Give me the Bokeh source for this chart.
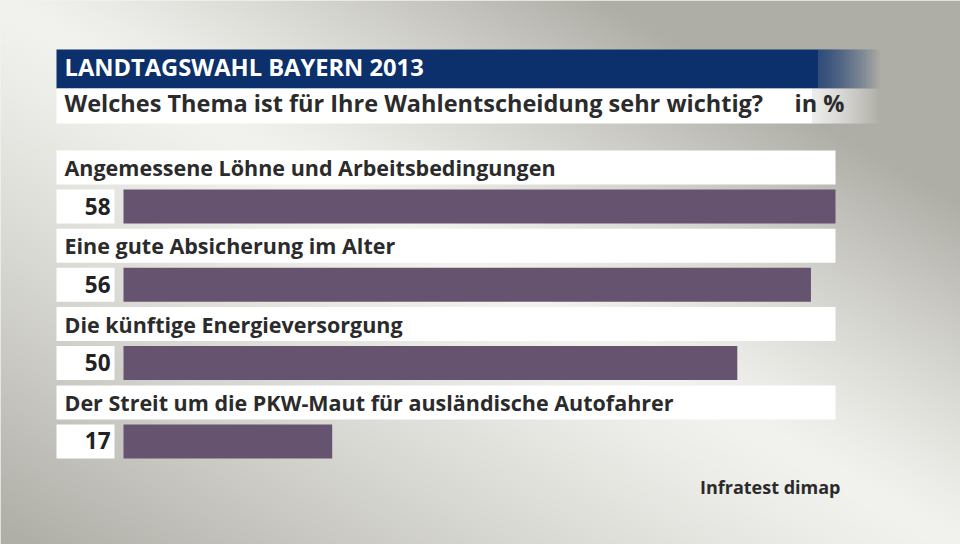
import numpy as np
from bokeh.plotting import figure
from bokeh.models import Range1d
from bokeh.core.properties import value
from bokeh.embed import file_html
from bokeh.resources import INLINE

# ---- data ----
title = "LANDTAGSWAHL BAYERN 2013"
subtitle = "Welches Thema ist für Ihre Wahlentscheidung sehr wichtig?"
unit = "in %"
categories = [
    "Angemessene Löhne und Arbeitsbedingungen",
    "Eine gute Absicherung im Alter",
    "Die künftige Energieversorgung",
    "Der Streit um die PKW-Maut für ausländische Autofahrer",
]
values = [58, 56, 50, 17]
source = "Infratest dimap"

# ---- layout constants (reference pixel coords) ----
W, H = 960, 544
OFF = 0
BAR_X0, BAR_X1 = 123, 835
FONT = value("Open Sans")
NAVY = "#0b306b"
BARC = "#66536f"
TXT = "#2b2b2b"

vmax = max(values)
ppu = (BAR_X1 - BAR_X0) / vmax
xs = -(BAR_X0 - OFF) / ppu
xe = (OFF + W - BAR_X0) / ppu

p = figure(width=W, height=H, output_backend="svg", toolbar_location=None,
           x_range=Range1d(xs, xe), y_range=Range1d(OFF + H, OFF),
           min_border=0, outline_line_color=None)
p.extra_x_ranges = {"px": Range1d(OFF, OFF + W)}
p.xaxis.visible = False
p.yaxis.visible = False
p.grid.visible = False
p.background_fill_color = "#e6e6e1"
p.border_fill_color = "#e6e6e1"

# ---- background gradient ----
gw, gh = 480, 272
xx, yy = np.meshgrid(np.linspace(OFF, OFF + W, gw), np.linspace(OFF, OFF + H, gh))
L = np.hypot(960, 544)
d = (xx * 544 - yy * 960) / L  # positive above diagonal (top-right)
f = np.where(d > 0, np.clip(d / 300, 0, 1), np.clip(-d / 470, 0, 1))
f = f ** 1.25
light = np.array([242, 242, 238])
dark = np.array([174, 173, 166])
img = np.zeros((gh, gw), dtype=np.uint32)
view = img.view(dtype=np.uint8).reshape((gh, gw, 4))
for c in range(3):
    view[:, :, c] = (light[c] - (light[c] - dark[c]) * f).astype(np.uint8)
view[:, :, 3] = 255
p.image_rgba(image=[img], x=OFF, y=OFF, dw=W, dh=H, x_range_name="px")

# ---- header bars with fade ----
def fade_bar(x0, xsolid, x1, top, bot, color):
    p.quad(left=[x0], right=[xsolid], top=[top], bottom=[bot], fill_color=color,
           line_color=None, x_range_name="px")
    n = int(x1 - xsolid)
    lefts = [xsolid + k for k in range(n)]
    alphas = [1 - (k + 0.5) / n for k in range(n)]
    p.quad(left=lefts, right=[l + 1.05 for l in lefts], top=[top] * n, bottom=[bot] * n,
           fill_color=color, fill_alpha=alphas, line_color=None, x_range_name="px")

fade_bar(56, 818, 880, 49, 88, NAVY)
fade_bar(56, 812, 880, 88, 123, "white")

# svg text baseline compensation
def ty(base, fs):
    return base - 0.42 * fs

TFS, SFS, LFS, VFS, SRCFS = 23.7, 23.5, 21.5, 22.5, 18

p.text(x=[64], y=[ty(76, TFS)], text=[title], text_font=FONT, text_font_style="bold",
       text_font_size=f"{TFS}px", text_color="white", text_baseline="alphabetic",
       x_range_name="px")
p.text(x=[64], y=[ty(112, SFS)], text=[subtitle], text_font=FONT, text_font_style="bold",
       text_font_size=f"{SFS}px", text_color=TXT, text_baseline="alphabetic",
       x_range_name="px")
p.text(x=[794], y=[ty(112, SFS)], text=[unit], text_font=FONT, text_font_style="bold",
       text_font_size=f"{SFS}px", text_color=TXT, text_baseline="alphabetic",
       x_range_name="px")

# ---- rows ----
step = 78.3
row_top = [150 + i * step for i in range(len(categories))]
label_bot = [t + 34 for t in row_top]
bar_top = [t + 39 for t in row_top]
bar_bot = [t + 73 for t in row_top]
bar_mid = [(a + b) / 2 for a, b in zip(bar_top, bar_bot)]
n = len(categories)

p.quad(left=[56] * n, right=[BAR_X1] * n, top=row_top,
       bottom=label_bot, fill_color="white", line_color=None, x_range_name="px")
p.quad(left=[56] * n, right=[114] * n, top=bar_top,
       bottom=bar_bot, fill_color="white", line_color=None, x_range_name="px")

p.hbar(y=bar_mid, left=0, right=values, height=34, fill_color=BARC, line_color=None)

p.text(x=[64] * n, y=[ty(t + 26, LFS) for t in row_top], text=categories,
       text_font=FONT, text_font_style="bold", text_font_size=f"{LFS}px", text_color=TXT,
       text_baseline="alphabetic", x_range_name="px")
p.text(x=[110] * n, y=[ty(t + 65, VFS) for t in row_top], text=[str(v) for v in values],
       text_font=FONT, text_font_style="bold", text_font_size=f"{VFS}px", text_color="#222222",
       text_align="right", text_baseline="alphabetic", x_range_name="px")

p.text(x=[840], y=[ty(494, SRCFS)], text=[source], text_font=FONT, text_font_style="bold",
       text_font_size=f"{SRCFS}px", text_color=TXT, text_align="right",
       text_baseline="alphabetic", x_range_name="px")

open("out.html", "w").write(file_html(p, INLINE))
